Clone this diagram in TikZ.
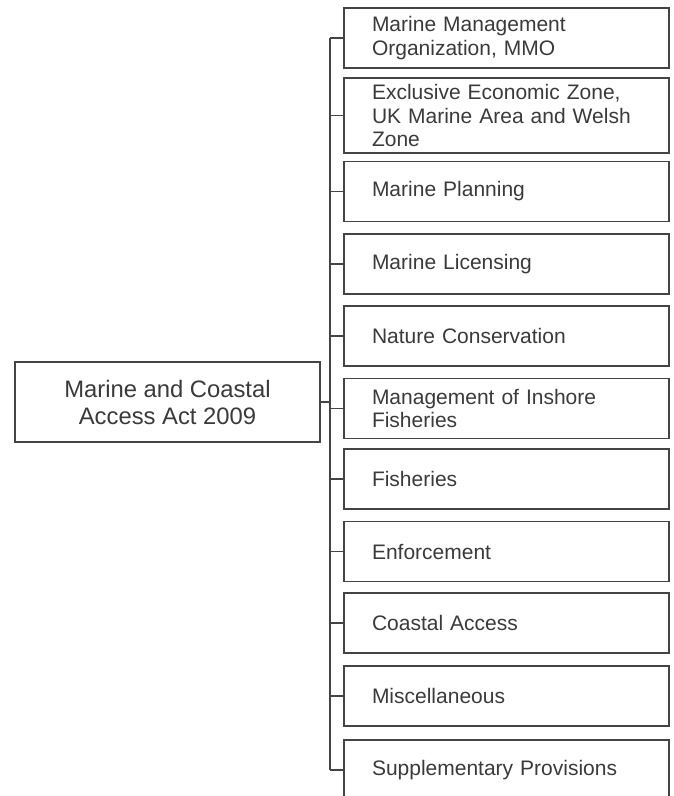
\documentclass[tikz,border=0pt]{standalone}
\usepackage{fontspec}
\setmainfont{Liberation Sans}
\usepackage{tikz}
\usetikzlibrary{positioning, calc}
\usepackage{xcolor}
\definecolor{inkgray}{RGB}{58,58,58}
\definecolor{linegray}{RGB}{68,68,68}

\begin{document}
\begin{tikzpicture}[x=1pt, y=-1pt,
    every node/.style={text=inkgray},
    actbox/.style={draw=linegray, line width=1.8pt, minimum width=305pt, minimum height=80pt,
        align=center, font=\fontsize{23.8}{27}\selectfont},
    partbox/.style={draw=linegray, line width=1.8pt, minimum width=325pt, minimum height=60pt,
        text width=269pt, inner xsep=28pt, align=left, font=\fontsize{21}{23.5}\selectfont},
    link/.style={draw=linegray, line width=1.6pt}]
\useasboundingbox (0,0) rectangle (673,796);

% the act itself
\node[actbox] (act) at (167.5,402) {Marine and Coastal\\Access Act 2009};

% its parts
\node[partbox] (b1) at (506.5,38) {Marine Management\\Organization, MMO};
\node[partbox, minimum height=75pt] (b2) at (506.5,115.5) {Exclusive Economic Zone,\\UK Marine Area and Welsh\\Zone};
\node[partbox] (b3) at (506.5,191.5) {Marine Planning};
\node[partbox] (b4) at (506.5,264) {Marine Licensing};
\node[partbox] (b5) at (506.5,336) {Nature Conservation};
\node[partbox] (b6) at (506.5,408.5) {Management of Inshore\\Fisheries};
\node[partbox] (b7) at (506.5,479) {Fisheries};
\node[partbox] (b8) at (506.5,551.5) {Enforcement};
\node[partbox] (b9) at (506.5,623) {Coastal Access};
\node[partbox] (b10) at (506.5,696) {Miscellaneous};
\node[partbox] (b11) at (506.5,770) {Supplementary Provisions};

% spine and ticks
\coordinate (spine) at (330,0);
\draw[link] (b1.west -| spine) -- (b11.west -| spine);
\draw[link] (act.east) -- (act.east -| spine);
\foreach \i in {1,...,11}
  \draw[link] (b\i.west -| spine) -- (b\i.west);
\end{tikzpicture}
\end{document}
